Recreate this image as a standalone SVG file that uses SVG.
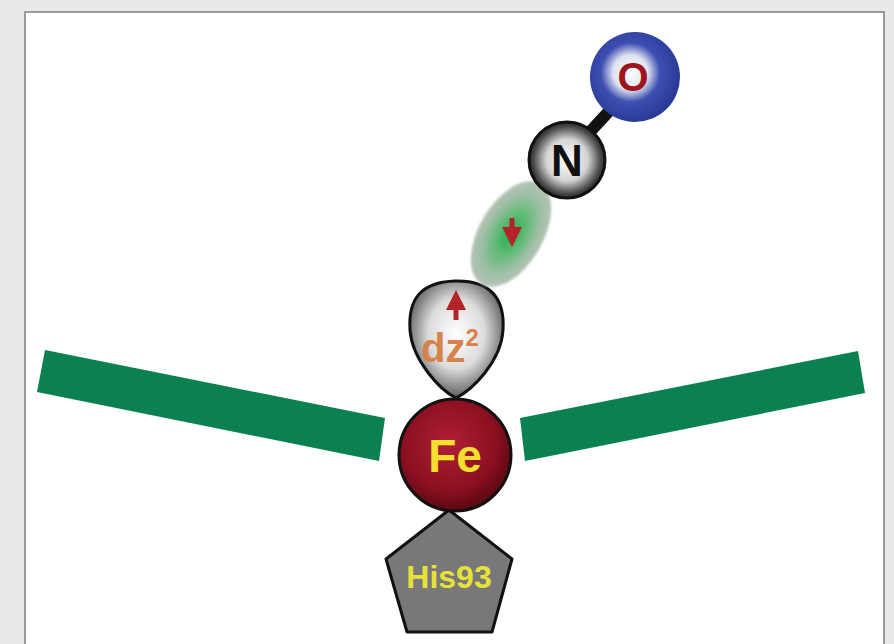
<svg xmlns="http://www.w3.org/2000/svg" width="894" height="644" viewBox="0 0 894 644">
  <defs>
    <radialGradient id="feGrad" cx="0.45" cy="0.4" r="0.6">
      <stop offset="0" stop-color="#b01e35"/>
      <stop offset="0.7" stop-color="#8a1020"/>
      <stop offset="1" stop-color="#5a0812"/>
    </radialGradient>
    <radialGradient id="nGrad" cx="0.5" cy="0.5" r="0.55">
      <stop offset="0" stop-color="#ffffff"/>
      <stop offset="0.5" stop-color="#d4d4d4"/>
      <stop offset="0.8" stop-color="#4a4a4a"/>
      <stop offset="1" stop-color="#111"/>
    </radialGradient>
    <radialGradient id="oGrad" cx="0.45" cy="0.45" r="0.55">
      <stop offset="0" stop-color="#ffffff"/>
      <stop offset="0.35" stop-color="#dfe3f2"/>
      <stop offset="0.6" stop-color="#3c4fb0"/>
      <stop offset="1" stop-color="#2b3a96"/>
    </radialGradient>
    <radialGradient id="lobeGrad" cx="0.5" cy="0.45" r="0.6">
      <stop offset="0" stop-color="#ffffff"/>
      <stop offset="0.5" stop-color="#dcdcdc"/>
      <stop offset="0.85" stop-color="#707070"/>
      <stop offset="1" stop-color="#303030"/>
    </radialGradient>
    <radialGradient id="sigGrad" cx="0.5" cy="0.5" r="0.5">
      <stop offset="0" stop-color="#22ad48"/>
      <stop offset="0.4" stop-color="#62bb78"/>
      <stop offset="0.75" stop-color="#9fbfa6"/>
      <stop offset="1" stop-color="#b3c3b6"/>
    </radialGradient>
    <filter id="soft" x="-20%" y="-20%" width="140%" height="140%">
      <feGaussianBlur stdDeviation="1.2"/>
    </filter>
    <marker id="redHead" viewBox="0 0 10 10" refX="5" refY="5" markerWidth="4" markerHeight="4" orient="auto">
      <path d="M0,0 L10,5 L0,10 Z" fill="#b5232a"/>
    </marker>
    <style>
      .bar { fill: #0b8050; }
      .lbl { font-family: "Liberation Sans", Arial, sans-serif; font-weight: bold; text-anchor: middle; }
      .outline { stroke: #111; stroke-width: 3; }
      .spin { stroke: #b5232a; stroke-width: 5; fill: none; }
    </style>
  </defs>

  <!-- page background and white panel -->
  <rect x="0" y="0" width="894" height="644" fill="#e9e9ea"/>
  <rect x="25" y="12" width="859" height="640" fill="#ffffff" stroke="#9a9a9a" stroke-width="2"/>

  <!-- porphyrin plane -->
  <g id="porphyrin-left">
    <polygon class="bar" points="45,350 385,418 379,461 37,392"/>
  </g>
  <g id="porphyrin-right">
    <polygon class="bar" points="520,418 858,351 865,393 525,461"/>
  </g>

  <!-- connectors -->
  <g id="bonds">
    <line x1="588" y1="134" x2="612" y2="108" stroke="#111" stroke-width="12" stroke-linecap="round"/>
  </g>

  <!-- proximal histidine -->
  <g id="his93">
    <polygon points="449,510 512,559 492,632 407,632 386,559" fill="#777877" stroke="#111" stroke-width="3" stroke-linejoin="round"/>
    <text class="lbl" x="449" y="588" font-size="32" fill="#e6e23a">His93</text>
  </g>

  <!-- iron -->
  <g id="fe">
    <circle cx="455" cy="455" r="56" fill="url(#feGrad)" class="outline"/>
    <text class="lbl" x="455" y="472" font-size="46" fill="#f2e030">Fe</text>
  </g>

  <!-- dz2 orbital lobe -->
  <g id="dz2">
    <path d="M456,398 C440,390 412,360 410,330 C408,300 420,282 455,281 C490,280 505,298 503,330 C501,362 472,390 456,398 Z" fill="url(#lobeGrad)" class="outline"/>
    <line class="spin" x1="456" y1="320" x2="456" y2="300" marker-end="url(#redHead)"/>
    <text class="lbl" x="450" y="362" font-size="40" fill="#d6824a">dz<tspan dy="-16" font-size="24">2</tspan></text>
  </g>

  <!-- NO sigma orbital -->
  <g id="sigma">
    <ellipse cx="511" cy="234" rx="58" ry="32" transform="rotate(-60 511 234)" fill="url(#sigGrad)" filter="url(#soft)"/>
    <line class="spin" x1="512" y1="218" x2="512" y2="237" marker-end="url(#redHead)"/>
  </g>

  <!-- nitrogen -->
  <g id="nitrogen">
    <circle cx="567" cy="160" r="38" fill="url(#nGrad)" class="outline"/>
    <text class="lbl" x="567" y="176" font-size="44" fill="#111">N</text>
  </g>

  <!-- oxygen -->
  <g id="oxygen">
    <circle cx="635" cy="77" r="45" fill="url(#oGrad)"/>
    <text class="lbl" x="633" y="91" font-size="40" fill="#a0141e">O</text>
  </g>
</svg>
